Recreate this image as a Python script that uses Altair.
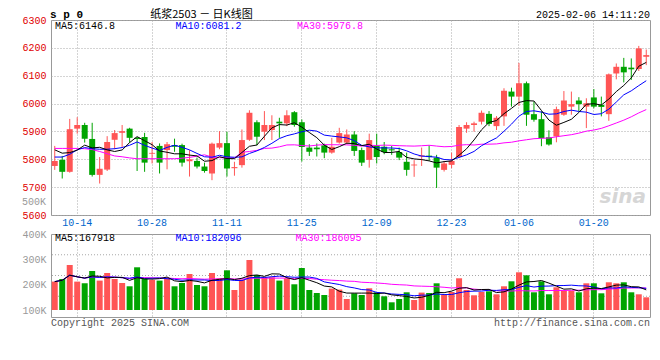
import altair as alt
import pandas as pd

dates = [
    "10-09", "10-10", "10-11", "10-14", "10-15", "10-16", "10-17", "10-18", "10-21", "10-22",
    "10-23", "10-24", "10-25", "10-28", "10-29", "10-30", "10-31", "11-01", "11-04", "11-05",
    "11-06", "11-07", "11-08", "11-11", "11-12", "11-13", "11-14", "11-15", "11-18", "11-19",
    "11-20", "11-21", "11-22", "11-25", "11-26", "11-27", "11-28", "11-29", "12-02", "12-03",
    "12-04", "12-05", "12-06", "12-09", "12-10", "12-11", "12-12", "12-13", "12-16", "12-17",
    "12-18", "12-19", "12-20", "12-23", "12-24", "12-25", "12-26", "12-27", "12-30", "12-31",
    "01-02", "01-03", "01-06", "01-07", "01-08", "01-09", "01-10", "01-13", "01-14", "01-15",
    "01-16", "01-17", "01-20", "01-21", "01-22", "01-23", "01-24", "01-27", "02-05", "02-06",
]
opens = [
    5776, 5798, 5755, 5910, 5923, 5873, 5744, 5763, 5870, 5895,
    5910, 5877, 5880, 5820, 5848, 5833, 5851, 5851, 5793, 5794,
    5774, 5749, 5842, 5858, 5768, 5779, 5870, 5933, 5899, 5905,
    5935, 5929, 5969, 5933, 5842, 5842, 5850, 5824, 5860, 5860,
    5889, 5833, 5798, 5850, 5845, 5836, 5826, 5791, 5778, 5810,
    5813, 5806, 5762, 5780, 5808, 5910, 5923, 5935, 5963, 5919,
    5954, 6043, 6025, 6073, 5962, 5944, 5879, 5882, 5960, 5989,
    6011, 5989, 6022, 5995, 5962, 6108, 6132, 6129, 6124, 6168,
]
highs = [
    5848, 5812, 5945, 5951, 5931, 5931, 5808, 5883, 5905, 5923,
    5913, 5880, 5895, 5862, 5857, 5862, 5874, 5856, 5833, 5806,
    5788, 5860, 5901, 5899, 5791, 5907, 5976, 5940, 5973, 5958,
    5949, 5976, 5973, 5943, 5854, 5857, 5856, 5877, 5913, 5907,
    5901, 5842, 5892, 5892, 5862, 5848, 5842, 5824, 5797, 5842,
    5850, 5816, 5794, 5824, 5923, 5933, 5935, 5975, 5973, 5955,
    6055, 6057, 6146, 6079, 6007, 5972, 5904, 5989, 6045, 6043,
    6023, 6019, 6052, 6025, 6108, 6144, 6164, 6162, 6207, 6194,
]
lows = [
    5762, 5731, 5752, 5892, 5860, 5738, 5713, 5758, 5836, 5842,
    5860, 5758, 5755, 5785, 5749, 5764, 5827, 5774, 5738, 5767,
    5752, 5725, 5836, 5738, 5741, 5770, 5866, 5850, 5869, 5869,
    5877, 5919, 5917, 5792, 5812, 5810, 5804, 5820, 5856, 5854,
    5812, 5776, 5770, 5785, 5818, 5816, 5797, 5741, 5737, 5776,
    5794, 5697, 5756, 5768, 5804, 5895, 5899, 5925, 5919, 5905,
    5920, 5989, 5992, 5920, 5935, 5847, 5849, 5861, 5956, 5960,
    5972, 5912, 5983, 5954, 5938, 6087, 6076, 6085, 6117, 6138,
]
closes = [
    5794, 5755, 5908, 5923, 5874, 5744, 5766, 5862, 5894, 5901,
    5877, 5873, 5788, 5823, 5788, 5854, 5845, 5788, 5800, 5774,
    5758, 5856, 5858, 5767, 5772, 5869, 5967, 5881, 5923, 5923,
    5929, 5958, 5923, 5844, 5827, 5836, 5824, 5845, 5894, 5889,
    5830, 5788, 5869, 5808, 5826, 5832, 5806, 5762, 5781, 5814,
    5808, 5770, 5785, 5794, 5916, 5923, 5929, 5967, 5927, 5949,
    6046, 6025, 6073, 5960, 5942, 5876, 5853, 5980, 6011, 5998,
    5998, 6001, 5989, 5988, 6105, 6132, 6112, 6123, 6198, 6174,
]
volumes = [
    212100, 222400, 277700, 212100, 205400, 254000, 216100, 246100, 222400, 206600,
    193600, 268600, 222400, 218400, 216100, 225200, 193600, 206600, 242100, 198700,
    193600, 246100, 225200, 256700, 179000, 220000, 297400, 238200, 229100, 229100,
    216100, 225200, 201500, 265800, 179000, 167100, 159200, 184500, 180500, 143400,
    165900, 159200, 185700, 169900, 154100, 130400, 143400, 169900, 139500, 168700,
    167100, 205400, 160800, 171100, 225200, 179000, 158000, 171100, 173800, 162000,
    193600, 213300, 248800, 237000, 169900, 213300, 162000, 189600, 176600, 176600,
    169900, 205400, 205400, 165900, 209400, 205400, 209400, 169900, 162000, 150100,
]
# moving-average values for the first days, whose window
# reaches back before the first candle shown
ma5_head = [5834, 5822, 5824, 5833]
ma10_head = [5808, 5808, 5818, 5834, 5842, 5838, 5836, 5836, 5838]
ma30_head = [
    5839, 5839, 5839, 5839, 5838, 5835, 5828, 5820, 5812, 5809,
    5805, 5802, 5802, 5802, 5802, 5802, 5802, 5804, 5807, 5811,
    5816, 5808, 5806, 5805, 5805, 5825, 5828, 5832, 5839,
]
tick_dates = ["10-14", "10-28", "11-11", "11-25", "12-09", "12-23", "01-06", "01-20"]
price_ticks = [5600, 5700, 5800, 5900, 6000, 6100, 6200, 6300]
vol_ticks = [100000, 200000, 300000, 400000]
price_domain = [5600, 6300]
vol_domain = [72400, 400000]
vol_base = 100000

MONO = "Liberation Mono"
CJK = "Noto Sans CJK SC"
RED = "#ff5555"
GREEN = "#00a400"
GRID = "#a8a8a8"

n = len(dates)


def pad(head):
    return list(head) + [None] * (n - len(head))


df = pd.DataFrame({
    "i": list(range(n)), "date": dates, "open": opens, "high": highs,
    "low": lows, "close": closes, "volume": volumes,
    "h5": pad(ma5_head), "h10": pad(ma10_head), "h30": pad(ma30_head),
})

W = 599
HP = 195
HV = 83

up = alt.condition("datum.close >= datum.open", alt.value(RED), alt.value(GREEN))


def xenc(show_labels):
    return alt.X(
        "date:O", sort=dates, title=None,
        scale=alt.Scale(type="band", paddingInner=0.2, paddingOuter=0.1),
        axis=alt.Axis(values=tick_dates, labels=show_labels, labelColor="#0066cc",
                      labelFont=MONO, labelFontSize=10, labelAngle=0, ticks=False,
                      tickSize=0, domain=False, grid=True, gridColor=GRID,
                      gridDash=[1, 2], labelPadding=2),
    )


def yprice(field):
    return alt.Y(
        field, type="quantitative", title=None,
        scale=alt.Scale(domain=price_domain, nice=False, zero=False),
        axis=alt.Axis(values=price_ticks, format="d", labelColor="#e00000", labelFont=MONO,
                      labelFontSize=10, ticks=False, tickSize=0, domain=False,
                      grid=True, gridColor=GRID, gridDash=[1, 2], labelPadding=5),
    )


def yvol(field):
    return alt.Y(
        field, type="quantitative", title=None,
        scale=alt.Scale(domain=vol_domain, nice=False, zero=False),
        axis=alt.Axis(values=vol_ticks, labelExpr="datum.value / 1000 + 'K'",
                      labelColor="#999999", labelFont=MONO, labelFontSize=10,
                      ticks=False, tickSize=0, domain=False, grid=False, labelPadding=5),
    )


def label(txt, color, x, y, align="left", baseline="middle", size=10, font=MONO,
          weight="normal", style="normal"):
    return alt.Chart(pd.DataFrame({"t": [txt]})).mark_text(
        align=align, baseline=baseline, color=color, fontSize=size, font=font,
        fontWeight=weight, fontStyle=style,
    ).encode(x=alt.value(x), y=alt.value(y), text="t:N")


base = alt.Chart(df)
X1 = xenc(True)
X2 = xenc(False)

wick = base.mark_rule(strokeWidth=1).encode(x=X1, y=yprice("low"), y2="high", color=up)
body = base.mark_bar().encode(x=X1, y=yprice("open"), y2="close", color=up)
pma = (base
       .transform_window(w5="mean(close)", frame=[-4, 0], sort=[alt.SortField("i")])
       .transform_window(w10="mean(close)", frame=[-9, 0], sort=[alt.SortField("i")])
       .transform_window(w30="mean(close)", frame=[-29, 0], sort=[alt.SortField("i")])
       .transform_calculate(
           ma5="isValid(datum.h5) ? datum.h5 : datum.w5",
           ma10="isValid(datum.h10) ? datum.h10 : datum.w10",
           ma30="isValid(datum.h30) ? datum.h30 : datum.w30"))
pl30 = pma.mark_line(color="#ff00ff", strokeWidth=1).encode(x=X1, y=yprice("ma30"))
pl10 = pma.mark_line(color="#0000ff", strokeWidth=1).encode(x=X1, y=yprice("ma10"))
pl5 = pma.mark_line(color="#000000", strokeWidth=1).encode(x=X1, y=yprice("ma5"))

price = alt.layer(
    wick, body, pl30, pl10, pl5,
    label("sina", "#d6d6d6", W - 4, HP - 8, align="right", baseline="bottom", size=20,
          font="DejaVu Sans", weight="bold", style="italic"),
    label("MA5:6146.8", "#000000", 4, 6),
    label("MA10:6081.2", "#0000ff", 124.5, 6),
    label("MA30:5976.8", "#ff00ff", 246, 6),
    label("500K", "#999999", -5, 182, align="right"),
    label("s p 0", "#000000", -1, -5, size=11, weight="bold"),
    label("纸浆2503 － 日K线图", "#000000", 150.5, -5, align="center", size=11, font=CJK),
    label("2025-02-06 14:11:20", "#000000", W, -5, align="right"),
).properties(width=W, height=HP)

vgrid_vals = [vol_domain[1] - k * (vol_domain[1] - vol_domain[0]) / 4 for k in (1, 2, 3)]
vgrid = alt.Chart(pd.DataFrame({"v": vgrid_vals})).mark_rule(
    color=GRID, strokeDash=[1, 2], strokeWidth=1).encode(y=yvol("v"))
vbars = base.mark_bar().encode(x=X2, y=yvol("volume"), y2=alt.datum(vol_base), color=up)
vma = (base
       .transform_window(v5="mean(volume)", frame=[-4, 0], sort=[alt.SortField("i")])
       .transform_window(v10="mean(volume)", frame=[-9, 0], sort=[alt.SortField("i")])
       .transform_window(v30="mean(volume)", frame=[-29, 0], sort=[alt.SortField("i")]))
vl30 = vma.mark_line(color="#ff00ff", strokeWidth=1).encode(x=X2, y=yvol("v30"))
vl10 = vma.mark_line(color="#0000ff", strokeWidth=1).encode(x=X2, y=yvol("v10"))
vl5 = vma.mark_line(color="#000000", strokeWidth=1).encode(x=X2, y=yvol("v5"))

volume = alt.layer(
    vgrid, vbars, vl30, vl10, vl5,
    label("MA5:167918", "#000000", 4, 4),
    label("MA10:182096", "#0000ff", 124.5, 4),
    label("MA30:186095", "#ff00ff", 244.5, 4),
    label("Copyright 2025 SINA.COM", "#555555", 0, 89),
    label("http://finance.sina.com.cn", "#555555", W, 89, align="right"),
).properties(width=W, height=HV)

chart = alt.vconcat(price, volume, spacing=0).properties(
    padding={"left": 13, "top": 0, "right": 0, "bottom": 0},
    background="white",
).configure_view(stroke="#999999", strokeWidth=1)

chart.save("out.html", embed_options={"renderer": "svg", "actions": False})
